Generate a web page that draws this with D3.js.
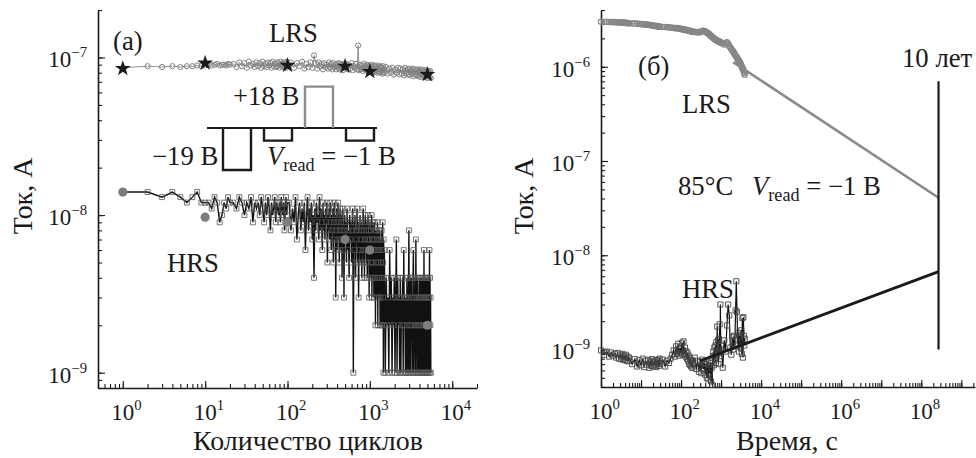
<!DOCTYPE html>
<html><head><meta charset="utf-8">
<script src="https://cdn.jsdelivr.net/npm/d3@7"></script>
<style>
body{margin:0;background:#fff}
svg{display:block}
text{font-family:"Liberation Serif","Times New Roman",serif;fill:#1a1a1a}
</style></head><body>
<svg id="c" width="976" height="458"></svg>
<script>
// ================= DATA =================
// Panel (а): endurance vs cycle number. Points are grouped in blocks: first cycle, cycle step, values.
// LRS current, units of 1e-9 A
const aLrsStart = [1, 22, 110, 520, 1560];
const aLrsStep  = [1, 2, 10, 20, 80];
const aLrsVals = [
 [86,88,87,88,87,88,88,89,88,89, 90,89,90,91,89,90,90,89,91,90],
 [91,87,93,88,92,86,94,89,91,87, 93,88,92,86,94,88,91,87,93,89, 92,86,94,88,91,87,93,88,92,86, 94,89,91,87,93,88,92,86,94,89],
 [93,86,92,88,94,85,91,87,93,86, 103,92,85,93,88,91,84,92,87,90, 85,93,86,91,84,92,87,90,84,91, 86,92,84,90,86,91,83,89,86,90],
 [91,84,89,85,92,83,88,86,91,84, 119,83,90,84,89,82,91,85,88,83, 90,82,89,84,88,81,90,83,87,82, 89,81,88,83,87,80,89,82,86,81, 88,80,87,82,86,79,88,81,85,80],
 [87,79,85,80,86,78,84,80,86,78, 85,79,84,77,86,79,84,78,85,77, 83,79,85,76,84,78,83,77,84,76, 82,78,84,75,83,77,82,76,83,75, 81,77,83,74,82,76,81,75,82,74]
];
// HRS current, units of 1e-9 A
const aHrsStart = [1, 22, 105, 510, 1540];
const aHrsStep  = [1, 2, 5, 10, 40];
const aHrsVals = [
 [14,14,13,14,13,12,13,14,12,12, 12,11,13,12,9,10,12,11,13,12],
 [12,11,13,12,10,12,11,13,9,12, 11,12,10,13,11,9,12,10,13,11, 8,12,10,11,13,9,12,11,10,12, 9,13,11,10,12,8,11,13,10,12],
 [12,8,11,9,13,7,10,12,8,11, 9,12,6,10,13,8,11,9,12,7, 10,4,11,8,12,9,10,7,13,8, 11,9,6,12,8,10,7,11,9,12,
  5,10,8,11,7,12,9,6,10,8, 11,5,9,12,7,10,3,8,11,6, 9,12,7,10,5,8,11,6,9,7, 10,4,8,11,6,9,3,7,10,8],
 [9,5,11,6,8,4,10,7,9,5, 8,11,1,9,6,10,4,8,7,11, 5,9,3,8,6,10,5,7,9,4, 8,6,11,5,9,4,7,10,6,8, 5,9,4,7,10,6,8,3,7,9,
  6,4,8,5,10,3,7,5,9,4, 7,3,6,9,4,8,2,6,5,8, 3,7,4,9,2,6,5,8,3,7, 4,8,2,6,3,7,5,2,8,4, 6,2,9,3,5,1,7,4,2,6],
 [1,4,2,3,1,6,2,4,1,3, 2,4,1,3,7,1,4,2,3,1, 4,1,3,2,4,1,6,2,3,1, 3,1,4,2,1,3,8,1,4,2, 1,4,2,3,1,4,6,1,3,2,
  4,1,7,2,3,1,4,2,1,3, 2,4,1,3,1,4,2,3,1,4, 1,3,2,4,1,6,2,3,1,4, 2,1,4,3,1,2,4,1,3,2, 4,1,3,2,6,1,4,2,3,1]
];
// separately marked cycles (stars = LRS, filled circles = HRS), units of 1e-9 A
const aMarkCycles = [1, 10, 100, 500, 1000, 5000];
const aMarkLrs    = [85, 92, 89, 88, 81.5, 78];
const aMarkHrs    = [14, 9.7, 9, 7, 6, 2];
// pulse scheme of the inset (V)
const pulseVolts = [-19, -1, 18, -1];

// Panel (б): retention at 85°C. Blocks: first time (s), time step, values.
const bStart = [1, 5, 30, 200, 1000];
const bStep  = [0.2, 1, 5, 20, 100];
// LRS, units of 1e-8 A
const bLrsVals = [
 [300,299,301,298,299,297,298,296,297,295,296,294,295,293,294,292,293,291,292,290],
 [290,288,289,286,286,283,284,281,281,279,279,277,277,275,275,273,273,271,271,270,270,268,268,267,266],
 [266,264,264,262,262,260,260,258,258,256,257,254,255,252,253,250,251,248,249,246,247,245,245,243,243,241,241,240,239,239,237,237,236,235],
 [234,235,232,234,231,234,236,239,241,239, 236,233,230,228,225,222,219,215,212,209, 206,204,202,200,198,196,195,193,191,190, 189,188,187,186,185,184,184,183,182,181],
 [180,176,172,178,182,175,166,160,154,149, 145,140,136,132,128,125,121,118,115,112, 109,106,103,100,97,95,92,89,86,82]
];
// HRS, units of 1e-11 A
const bHrsVals = [
 [98,88,95,84,93,86,90,82,92,80, 88,79,90,78,86,77,88,76,84,75],
 [82,70,79,66,77,68,80,65,76,69,78,64,75,67,79,66,74,68,77,65,76,70,78,67,80],
 [70,78,66,76,72, 80,88,98,84,108,90,115,86,104,92, 118,88,122,90,105,84,96,80,92,76, 86,70,82,68,78,66,76,64,72],
 [72,82,62,76,58,74,56,78,62,72, 54,70,50,74,48,68,56,72,46,64, 42,85,95,68,105,80,110,72,120,88, 175,92,125,70,130,95,185,85,300,100],
 [110,64,125,95,180,300,230,105,88,135, 100,140,110,260,530,250,115,150,95,135, 140,105,160,90,215,82,220,140,110,130]
];
// extrapolation lines (time s, current A)
const bLrsFitT = [2000, 2.7e8];
const bLrsFitI = [1.12e-6, 4.07e-8];
const bHrsFitT = [300, 2.7e8];
const bHrsFitI = [7.6e-10, 6.7e-9];
const tenYears = 2.7e8;
const tenYearsSpan = [1e-9, 7e-7];

// tick labels
const aXMajor = [1, 10, 100, 1000, 10000];
const aYMajor = [1e-9, 1e-8, 1e-7];
const bXMajor = [1, 1e1, 1e2, 1e3, 1e4, 1e5, 1e6, 1e7, 1e8, 1e9];
const bXLabeled = [1, 1e2, 1e4, 1e6, 1e8];
const bYMajor = [1e-9, 1e-8, 1e-7, 1e-6];

// ================= DRAW =================
const svg = d3.select('#c');
const expand = (starts, steps, vals, unit) =>
  vals.flatMap((arr, k) => arr.map((v, i) => [starts[k] + i * steps[k], v * unit]));

const ax = d3.scaleLog().domain([0.5, 2e4]).range([98, 477]);
const ay = d3.scaleLog().domain([8e-10, 2e-7]).range([388, 10]);
const bx = d3.scaleLog().domain([1, 2.2e9]).range([601, 975]);
const by = d3.scaleLog().domain([4e-10, 4e-6]).range([387, 10]);

function measure(txt, size) {
  const t = svg.append('text').attr('font-size', size).text(txt);
  const w = t.node().getComputedTextLength(); t.remove(); return w;
}
// font sizes fitted to the text widths seen in the figure
const TICKF = 23 * 100 / measure('10', 100);
const SUPF = TICKF * 0.64;
const w10 = measure('10', TICKF);
const LBL = 49 * 100 / measure('LRS', 100);
const TITLEF = 230 * 100 / measure('Количество циклов', 100);
const exp = v => Math.round(Math.log10(v)).toString().replace('-', '\u2212');

function axes(xs, ys, xMajor, xLabeled, yMajor) {
  const y0 = ys.range()[0], x0 = xs.range()[0];
  const inside = (s, v) => { const d = s.domain(); return v >= d[0] * 0.999 && v <= d[1] * 1.001; };
  const xMinor = xs.ticks().filter(v => inside(xs, v));
  const yMinor = ys.ticks().filter(v => inside(ys, v));
  const gx = svg.append('g').attr('transform', `translate(0,${y0})`);
  gx.call(d3.axisBottom(xs).tickValues(xMinor).tickSize(-4).tickSizeOuter(0).tickFormat(''));
  gx.append('g').call(d3.axisBottom(xs).tickValues(xMajor).tickSize(-7).tickSizeOuter(0).tickFormat(''))
    .select('.domain').remove();
  const gy = svg.append('g').attr('transform', `translate(${x0},0)`);
  gy.call(d3.axisLeft(ys).tickValues(yMinor).tickSize(-4).tickSizeOuter(0).tickFormat(''));
  gy.append('g').call(d3.axisLeft(ys).tickValues(yMajor).tickSize(-7).tickSizeOuter(0).tickFormat(''))
    .select('.domain').remove();
  svg.selectAll('.domain').attr('stroke', '#1a1a1a').attr('stroke-width', 1.6);
  svg.selectAll('.tick line').attr('stroke', '#1a1a1a').attr('stroke-width', 1.1);
  xLabeled.forEach(v => {
    const x = xs(v);
    const t = svg.append('text').attr('x', x - w10 / 2).attr('y', y0 + 32).attr('font-size', TICKF);
    t.append('tspan').text('10');
    t.append('tspan').attr('dy', -10).attr('font-size', SUPF).text(exp(v));
  });
  yMajor.forEach(v => {
    const y = ys(v);
    const t = svg.append('text').attr('x', x0 - 11).attr('y', y + 10).attr('font-size', TICKF)
      .attr('text-anchor', 'end');
    t.append('tspan').text('10');
    t.append('tspan').attr('dy', -10).attr('font-size', SUPF).text(exp(v));
  });
}

axes(ax, ay, aXMajor, aXMajor, aYMajor);
axes(bx, by, bXMajor, bXLabeled, bYMajor);

// ---------- panel (а) ----------
const aLrs = expand(aLrsStart, aLrsStep, aLrsVals, 1e-9);
const aHrs = expand(aHrsStart, aHrsStep, aHrsVals, 1e-9);
const lineA = d3.line().x(d => ax(d[0])).y(d => ay(d[1]));

svg.append('path').attr('d', lineA(aLrs)).attr('fill', 'none').attr('stroke', '#888').attr('stroke-width', 0.9);
svg.append('g').selectAll('circle').data(aLrs).join('circle')
  .attr('cx', d => ax(d[0])).attr('cy', d => ay(d[1])).attr('r', 2.6)
  .attr('fill', 'none').attr('stroke', '#828282').attr('stroke-width', 1);

svg.append('path').attr('d', lineA(aHrs)).attr('fill', 'none').attr('stroke', '#111').attr('stroke-width', 1.4);
svg.append('g').selectAll('path').data(aHrs).join('path')
  .attr('transform', d => `translate(${ax(d[0])},${ay(d[1])})`)
  .attr('d', d3.symbol(d3.symbolSquare, 24)())
  .attr('fill', 'none').attr('stroke', '#555').attr('stroke-width', 0.8);

svg.append('g').selectAll('path').data(aMarkCycles).join('path')
  .attr('transform', (d, i) => `translate(${ax(d)},${ay(aMarkLrs[i] * 1e-9)})`)
  .attr('d', d3.symbol(d3.symbolStar, 78)())
  .attr('fill', '#1a1a1a');
svg.append('g').selectAll('circle').data(aMarkCycles).join('circle')
  .attr('cx', d => ax(d)).attr('cy', (d, i) => ay(aMarkHrs[i] * 1e-9)).attr('r', 4.6)
  .attr('fill', '#7d7d7d');

// inset pulse scheme
const baseY = 128;
const pulseX = d3.scaleBand().domain(pulseVolts.map((d, i) => i)).range([223, 374]).paddingInner(0.317);
const pulseH = d3.scaleSymlog().constant(0.5).domain([-19, 19]).range([42, -42]);
svg.append('line').attr('x1', 207).attr('x2', 377).attr('y1', baseY).attr('y2', baseY)
  .attr('stroke', '#1a1a1a').attr('stroke-width', 2.2);
svg.append('g').selectAll('path').data(pulseVolts).join('path')
  .attr('d', (v, i) => {
    const x1 = pulseX(i), x2 = x1 + pulseX.bandwidth(), y = baseY + pulseH(v);
    return `M${x1},${baseY}V${y}H${x2}V${baseY}`;
  })
  .attr('fill', 'none').attr('stroke', v => v > 0 ? '#8c8c8c' : '#1a1a1a').attr('stroke-width', 2.4);

// texts
function label(x, y, txt, size) {
  return svg.append('text').attr('x', x).attr('y', y).attr('font-size', size || LBL).text(txt);
}
function vread(x, y) {
  const t = svg.append('text').attr('x', x).attr('y', y).attr('font-size', LBL);
  t.append('tspan').attr('font-style', 'italic').text('V');
  t.append('tspan').attr('font-size', LBL * 0.68).attr('dy', 6).text('read');
  t.append('tspan').attr('dy', -6).text(' = \u22121 В');
}
label(113, 50, '(а)');
label(269, 42, 'LRS');
label(233, 105, '+18 В');
label(152, 165, '\u221219 В');
vread(267, 165);
label(167, 272, 'HRS');
svg.append('text').attr('x', 308).attr('y', 450).attr('text-anchor', 'middle').attr('font-size', TITLEF).text('Количество циклов');
svg.append('text').attr('transform', 'translate(32,196) rotate(-90)').attr('text-anchor', 'middle').attr('font-size', TITLEF).text('Ток, А');

// ---------- panel (б) ----------
const bLrs = expand(bStart, bStep, bLrsVals, 1e-8);
const bHrs = expand(bStart, bStep, bHrsVals, 1e-11);
const lineB = d3.line().x(d => bx(d[0])).y(d => by(d[1]));

svg.append('path').attr('d', lineB(bLrs)).attr('fill', 'none').attr('stroke', '#888').attr('stroke-width', 0.9);
svg.append('g').selectAll('circle').data(bLrs).join('circle')
  .attr('cx', d => bx(d[0])).attr('cy', d => by(d[1])).attr('r', 2.7)
  .attr('fill', 'none').attr('stroke', '#868686').attr('stroke-width', 1.1);
svg.append('path').attr('d', lineB(d3.zip(bLrsFitT, bLrsFitI))).attr('fill', 'none')
  .attr('stroke', '#8a8a8a').attr('stroke-width', 2.6);

svg.append('path').attr('d', lineB(bHrs)).attr('fill', 'none').attr('stroke', '#111').attr('stroke-width', 1.2);
svg.append('g').selectAll('path').data(bHrs).join('path')
  .attr('transform', d => `translate(${bx(d[0])},${by(d[1])})`)
  .attr('d', d3.symbol(d3.symbolSquare, 26)())
  .attr('fill', 'none').attr('stroke', '#444').attr('stroke-width', 0.9);
svg.append('path').attr('d', lineB(d3.zip(bHrsFitT, bHrsFitI))).attr('fill', 'none')
  .attr('stroke', '#1a1a1a').attr('stroke-width', 2.8);

svg.append('line').attr('x1', bx(tenYears)).attr('x2', bx(tenYears))
  .attr('y1', by(tenYearsSpan[0])).attr('y2', by(tenYearsSpan[1]))
  .attr('stroke', '#1a1a1a').attr('stroke-width', 2.2);

label(638, 75, '(б)');
label(682, 113, 'LRS');
label(678, 195, '85°C');
vread(752, 195);
label(902, 67, '10 лет');
label(682, 298, 'HRS');
svg.append('text').attr('x', 787).attr('y', 450).attr('text-anchor', 'middle').attr('font-size', TITLEF).text('Время, с');
svg.append('text').attr('transform', 'translate(533,196) rotate(-90)').attr('text-anchor', 'middle').attr('font-size', TITLEF).text('Ток, А');
</script>
</body></html>
